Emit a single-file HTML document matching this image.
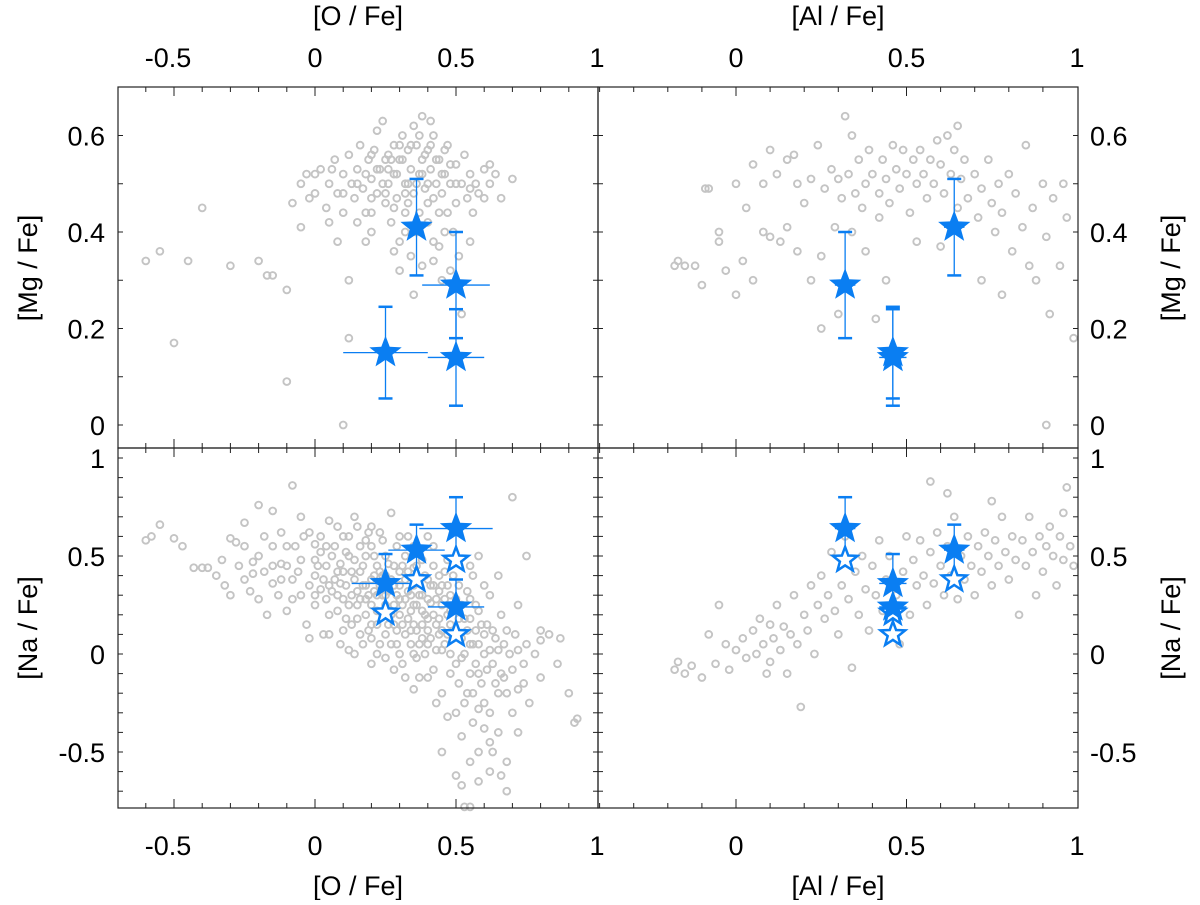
<!DOCTYPE html>
<html><head><meta charset="utf-8"><style>
html,body{margin:0;padding:0;background:#fff}
svg text{font-family:"Liberation Sans",sans-serif;fill:#000}
</style></head><body>
<svg id="chart" width="1200" height="900" viewBox="0 0 1200 900" xmlns="http://www.w3.org/2000/svg">
</svg>
<script>
// ---- data ----
const xTicksO = [-0.5, 0, 0.5, 1];
const xTickLabelsO = ["-0.5", "0", "0.5", "1"];
const xTicksAl = [0, 0.5, 1];
const xTickLabelsAl = ["0", "0.5", "1"];
const yTicksMg = [0, 0.2, 0.4, 0.6];
const yTickLabelsMg = ["0", "0.2", "0.4", "0.6"];
const yTicksNa = [-0.5, 0, 0.5, 1];
const yTickLabelsNa = ["-0.5", "0", "0.5", "1"];

const fieldOMg = [[-0.6,0.34],[-0.55,0.36],[-0.5,0.17],[-0.45,0.34],[-0.4,0.45],[-0.3,0.33],[-0.2,0.34],[-0.17,0.31],[-0.15,0.31],[-0.1,0.28],[-0.1,0.09],[0.1,0.0],[0.12,0.18],[-0.08,0.46],[-0.05,0.5],[-0.03,0.52],[0,0.48],[0.02,0.53],[0.04,0.45],[0.05,0.5],[0.07,0.55],[0.08,0.48],[0.1,0.52],[0.1,0.44],[0.12,0.56],[0.13,0.5],[0.14,0.47],[0.15,0.53],[0.16,0.58],[0.17,0.49],[0.18,0.44],[0.19,0.55],[0.2,0.51],[0.2,0.4],[0.21,0.57],[0.22,0.48],[0.23,0.53],[0.24,0.63],[0.25,0.46],[0.25,0.55],[0.26,0.5],[0.27,0.42],[0.28,0.58],[0.28,0.52],[0.29,0.47],[0.3,0.55],[0.3,0.38],[0.31,0.6],[0.32,0.5],[0.32,0.44],[0.33,0.57],[0.34,0.53],[0.34,0.35],[0.35,0.62],[0.35,0.48],[0.36,0.58],[0.37,0.52],[0.37,0.44],[0.38,0.55],[0.38,0.64],[0.39,0.49],[0.4,0.57],[0.4,0.42],[0.41,0.53],[0.42,0.47],[0.42,0.6],[0.43,0.5],[0.44,0.55],[0.44,0.37],[0.45,0.48],[0.46,0.52],[0.47,0.44],[0.47,0.58],[0.48,0.5],[0.49,0.4],[0.5,0.54],[0.5,0.46],[0.51,0.35],[0.52,0.5],[0.53,0.56],[0.54,0.47],[0.55,0.52],[0.56,0.44],[0.57,0.5],[0.58,0.48],[0.6,0.53],[0.62,0.5],[0.64,0.52],[0.66,0.47],[0.7,0.51],[0.12,0.3],[0.18,0.38],[0.3,0.32],[0.35,0.27],[0.42,0.34],[0.45,0.3],[0.48,0.32],[0.52,0.23],[0.55,0.38],[0.2,0.47],[0.15,0.42],[0.28,0.36],[0.4,0.5],[0.36,0.4],[0.22,0.61],[0.26,0.56],[0.33,0.46],[0.05,0.42],[-0.05,0.41],[0.08,0.38],
[0.15,0.5],[0.18,0.52],[0.2,0.56],[0.22,0.53],[0.24,0.5],[0.26,0.53],[0.27,0.55],[0.29,0.52],[0.31,0.55],[0.33,0.5],[0.34,0.58],[0.36,0.5],[0.38,0.52],[0.39,0.56],[0.41,0.58],[0.43,0.55],[0.45,0.52],[0.46,0.57],[0.48,0.54],[0.5,0.5],[0.25,0.48],[0.28,0.45],[0.32,0.48],[0.4,0.46],[0.44,0.44],[0.3,0.58],[0.37,0.6],[0.41,0.63],[0.2,0.44],[0.1,0.48],[0.06,0.53],[0.0,0.52],[-0.02,0.47],[0.55,0.49],[0.6,0.47],[0.62,0.54],[0.46,0.4],[0.42,0.38],[0.38,0.33],[0.32,0.4]];
const fieldAlMg = [[-0.18,0.33],[-0.17,0.34],[-0.15,0.33],[-0.12,0.33],[-0.1,0.29],[-0.09,0.49],[-0.08,0.49],[-0.05,0.4],[-0.05,0.38],[-0.03,0.32],[0,0.27],[0,0.5],[0.02,0.34],[0.03,0.45],[0.05,0.54],[0.05,0.3],[0.08,0.5],[0.08,0.4],[0.1,0.57],[0.1,0.39],[0.12,0.52],[0.13,0.38],[0.15,0.41],[0.15,0.55],[0.17,0.56],[0.18,0.36],[0.2,0.46],[0.22,0.51],[0.22,0.3],[0.24,0.58],[0.25,0.2],[0.26,0.49],[0.28,0.53],[0.29,0.41],[0.3,0.51],[0.31,0.47],[0.32,0.64],[0.33,0.52],[0.34,0.6],[0.35,0.48],[0.36,0.55],[0.37,0.45],[0.38,0.5],[0.38,0.36],[0.39,0.57],[0.4,0.52],[0.41,0.22],[0.42,0.48],[0.43,0.55],[0.44,0.51],[0.45,0.46],[0.46,0.58],[0.47,0.53],[0.48,0.49],[0.49,0.57],[0.5,0.52],[0.51,0.44],[0.52,0.55],[0.53,0.5],[0.54,0.57],[0.55,0.52],[0.56,0.47],[0.57,0.55],[0.58,0.5],[0.59,0.59],[0.6,0.54],[0.61,0.48],[0.62,0.6],[0.63,0.52],[0.64,0.57],[0.65,0.45],[0.66,0.51],[0.67,0.55],[0.68,0.47],[0.7,0.52],[0.71,0.43],[0.72,0.49],[0.74,0.55],[0.75,0.46],[0.76,0.4],[0.77,0.5],[0.78,0.44],[0.8,0.52],[0.81,0.36],[0.82,0.48],[0.84,0.41],[0.85,0.58],[0.86,0.33],[0.87,0.45],[0.88,0.3],[0.9,0.5],[0.91,0.39],[0.92,0.23],[0.93,0.47],[0.95,0.33],[0.96,0.5],[0.97,0.43],[0.99,0.18],[0.91,0.0],[0.25,0.35],[0.34,0.4],[0.44,0.3],[0.3,0.23],[0.53,0.38],[0.6,0.37],[0.72,0.3],[0.78,0.27],[0.65,0.62],[0.18,0.5],[0.42,0.43]];
const fieldONa = [[-0.6,0.58],[-0.58,0.6],[-0.55,0.66],[-0.5,0.59],[-0.47,0.55],[-0.43,0.44],[-0.4,0.44],[-0.38,0.44],[-0.33,0.48],[-0.3,0.59],[-0.28,0.57],[-0.25,0.67],[-0.22,0.41],[-0.2,0.76],[-0.15,0.73],[-0.12,0.46],[-0.08,0.86],[-0.05,0.7],[-0.35,0.4],[-0.32,0.35],[-0.3,0.3],[-0.27,0.45],[-0.25,0.38],[-0.23,0.32],[-0.2,0.5],[-0.2,0.28],[-0.18,0.42],[-0.17,0.2],[-0.15,0.55],[-0.15,0.36],[-0.13,0.3],[-0.12,0.62],[-0.1,0.45],[-0.1,0.22],[-0.08,0.38],[-0.07,0.55],[-0.05,0.3],[-0.05,0.48],[-0.03,0.15],[-0.02,0.62],[0,0.4],[0,0.25],[0.02,0.52],[0.02,0.33],[0.03,0.1],[0.04,0.45],[0.05,0.68],[0.05,0.2],[0.07,0.38],[0.07,0.55],[0.08,0.3],[0.09,0.46],[0.1,0.12],[0.1,0.6],[0.11,0.35],[0.12,0.25],[0.12,0.5],[0.13,0.42],[0.14,0.7],[0.15,0.18],[0.15,0.32],[0.16,0.55],[0.17,0.05],[0.17,0.45],[0.18,0.28],[0.19,0.62],[0.2,0.38],[0.2,0.15],[0.21,0.5],[0.22,0.22],[0.22,0.0],[0.23,0.42],[0.24,0.3],[0.24,0.58],[0.25,0.1],[0.26,0.46],[0.27,0.2],[0.27,0.72],[0.28,0.35],[0.29,0.05],[0.29,0.55],[0.3,0.28],[0.3,0.42],[0.31,-0.05],[0.31,0.15],[0.32,0.5],[0.33,0.32],[0.33,0.6],[0.34,0.22],[0.35,0.0],[0.35,0.44],[0.36,0.12],[0.37,0.3],[0.37,-0.12],[0.38,0.48],[0.39,0.2],[0.4,0.05],[0.4,0.38],[0.41,0.26],[0.42,-0.08],[0.42,0.55],[0.43,0.15],[0.44,0.32],[0.45,-0.2],[0.45,0.02],[0.46,0.42],[0.47,0.2],[0.48,-0.1],[0.48,0.3],[0.5,-0.3],[0.5,0.1],[0.51,0.35],[0.52,-0.02],[0.52,-0.42],[0.53,0.18],[0.54,-0.2],[0.55,0.28],[0.55,0.05],[0.56,-0.35],[0.57,0.12],[0.58,-0.1],[0.58,0.22],[0.6,-0.25],[0.6,0.0],[0.61,0.15],[0.62,-0.45],[0.63,-0.05],[0.64,0.08],[0.65,-0.2],[0.66,0.2],[0.67,-0.12],[0.68,-0.55],[0.69,0.0],[0.7,-0.3],[0.71,0.1],[0.72,-0.18],[0.74,-0.05],[0.75,0.05],[0.76,-0.25],[0.78,0.0],[0.8,-0.12],[0.83,0.1],[0.86,-0.05],[0.9,-0.2],[0.92,-0.35],[0.93,-0.33],[0.87,0.08],[0.8,0.07],[0.7,0.8],[0.5,-0.62],[0.52,-0.67],[0.55,-0.78],[0.53,-0.78],[0.62,-0.6],[0.68,-0.7],[0.72,-0.4],[0.45,-0.5],[0.58,-0.5],[0.65,-0.4],[0.15,0.25],[0.25,0.4],[0.18,0.35],[0.28,0.15],[0.32,0.38],[0.35,0.25],[0.22,0.3],[0.38,0.08],[0.4,0.18],[0.42,0.35],[0.45,0.25],[0.3,0.2],[0.26,0.32],[0.34,0.05],[0.1,0.28],[0.05,0.35],[0.08,0.42],[0.14,0.48],[0.2,0.65],[0.16,0.1],[0.12,0.02],[0.44,0.1],[0.48,0.15],[0.36,-0.02],[0.28,-0.08],[0.58,0.5],[0.6,0.35],[0.62,0.3],[0.65,0.4],[0.56,0.4],[0.75,0.5],[0.55,0.45],[0.8,0.12],[0.68,0.12],[0.72,0.25],[-0.02,0.08],[0.0,0.56],[0.3,0.6],[0.4,0.6],[0.25,0.25],[0.38,0.22],[0.2,0.08],[0.35,0.55],[0.47,0.48],
[0.0,0.3],[0.01,0.45],[0.03,0.38],[0.04,0.28],[0.06,0.5],[0.06,0.32],[0.08,0.22],[0.09,0.36],[0.1,0.42],[0.11,0.18],[0.11,0.52],[0.13,0.3],[0.13,0.15],[0.14,0.38],[0.16,0.28],[0.16,0.42],[0.17,0.35],[0.18,0.2],[0.18,0.5],[0.19,0.12],[0.19,0.3],[0.2,0.25],[0.21,0.4],[0.21,0.32],[0.22,0.45],[0.22,0.15],[0.23,0.35],[0.23,0.05],[0.24,0.2],[0.24,0.4],[0.25,0.5],[0.25,0.3],[0.26,0.15],[0.26,0.22],[0.27,0.38],[0.27,0.05],[0.28,0.25],[0.28,0.45],[0.29,0.3],[0.29,0.12],[0.3,0.35],[0.3,0.0],[0.31,0.25],[0.31,0.45],[0.32,0.1],[0.32,0.28],[0.33,0.18],[0.33,0.42],[0.34,0.3],[0.34,0.12],[0.35,0.35],[0.35,0.15],[0.36,0.25],[0.36,0.45],[0.37,0.05],[0.37,0.38],[0.38,0.3],[0.38,0.15],[0.39,0.4],[0.39,0.0],[0.4,0.28],[0.4,0.12],[0.41,0.35],[0.41,0.08],[0.42,0.2],[0.42,0.45],[0.43,0.28],[0.43,0.02],[0.44,0.18],[0.44,0.4],[0.45,0.12],[0.45,0.35],[0.46,0.28],[0.46,0.05],[0.47,0.1],[0.47,0.35],[0.48,0.22],[0.48,0.0],[0.49,0.4],[0.49,0.08],[0.5,0.28],[0.5,-0.05],[0.51,0.18],[0.51,-0.15],[0.52,0.25],[0.52,0.08],[0.53,0.0],[0.53,-0.25],[0.54,0.12],[0.54,0.32],[0.55,-0.1],[0.55,0.18],[0.56,0.05],[0.56,-0.2],[0.57,0.25],[0.57,-0.05],[0.58,0.05],[0.58,-0.28],[0.59,0.15],[0.59,-0.15],[0.6,0.1],[0.61,-0.08],[0.62,0.02],[0.62,-0.3],[0.63,0.12],[0.64,-0.15],[0.65,0.02],[0.66,-0.1],[0.67,0.05],[0.68,-0.2],[0.7,-0.08],[0.72,0.02],[0.74,-0.15],[-0.25,0.55],[-0.22,0.47],[-0.18,0.6],[-0.15,0.45],[-0.12,0.38],[-0.1,0.55],[-0.08,0.28],[-0.06,0.42],[-0.04,0.6],[-0.02,0.35],[0.0,0.48],[0.02,0.6],[0.04,0.55],[0.08,0.65],[0.12,0.6],[0.15,0.65],[0.2,0.55],[0.23,0.62],[0.18,0.58],[0.09,0.05],[0.05,0.1],[0.14,0.0],[0.2,-0.05],[0.25,-0.02],[0.32,-0.12],[0.35,-0.18],[0.4,-0.12],[0.43,-0.25],[0.47,-0.32],[0.6,-0.38],[0.63,-0.5],[0.66,-0.62],[0.55,-0.55],[0.58,-0.65]];
const fieldAlNa = [[-0.18,-0.08],[-0.17,-0.04],[-0.15,-0.1],[-0.13,-0.06],[-0.1,-0.12],[-0.08,0.1],[-0.06,-0.05],[-0.05,0.25],[-0.03,0.05],[-0.02,-0.08],[0,0.02],[0.02,0.08],[0.03,-0.02],[0.05,0.12],[0.06,0.0],[0.07,0.18],[0.08,0.05],[0.09,-0.1],[0.1,0.15],[0.1,-0.04],[0.11,0.08],[0.12,0.25],[0.13,0.02],[0.14,0.14],[0.15,-0.1],[0.16,0.1],[0.17,0.3],[0.18,0.05],[0.19,-0.27],[0.2,0.2],[0.21,0.12],[0.22,0.35],[0.23,0.0],[0.24,0.25],[0.25,0.4],[0.26,0.18],[0.27,0.3],[0.28,0.52],[0.29,0.22],[0.3,0.1],[0.31,0.35],[0.32,0.6],[0.33,0.28],[0.34,-0.07],[0.35,0.42],[0.36,0.2],[0.37,0.5],[0.38,0.33],[0.39,0.12],[0.4,0.45],[0.41,0.3],[0.42,0.58],[0.43,0.22],[0.44,0.38],[0.45,0.5],[0.47,0.3],[0.48,0.05],[0.49,0.42],[0.5,0.6],[0.51,0.2],[0.52,0.48],[0.53,0.35],[0.54,0.58],[0.55,0.4],[0.56,0.25],[0.57,0.52],[0.58,0.36],[0.59,0.62],[0.6,0.45],[0.61,0.3],[0.62,0.55],[0.63,0.4],[0.64,0.7],[0.65,0.28],[0.66,0.5],[0.67,0.38],[0.68,0.6],[0.69,0.45],[0.7,0.3],[0.71,0.55],[0.72,0.42],[0.73,0.62],[0.74,0.5],[0.75,0.35],[0.76,0.58],[0.77,0.45],[0.78,0.7],[0.79,0.52],[0.8,0.38],[0.81,0.6],[0.82,0.48],[0.83,0.2],[0.84,0.58],[0.85,0.45],[0.86,0.7],[0.87,0.52],[0.88,0.3],[0.89,0.6],[0.9,0.42],[0.91,0.55],[0.92,0.65],[0.93,0.5],[0.94,0.35],[0.95,0.6],[0.96,0.48],[0.97,0.85],[0.98,0.55],[0.99,0.45],[0.57,0.88],[0.62,0.82],[0.75,0.78],[0.96,0.72]];

// target stars: [x, y, xerr, yerr]
const starsOMg = [[0.36,0.41,0.03,0.10],[0.50,0.29,0.12,0.11],[0.25,0.15,0.15,0.095],[0.50,0.14,0.10,0.10]];
const starsAlMg = [[0.32,0.29,0.03,0.11],[0.46,0.15,0.04,0.095],[0.46,0.14,0.04,0.10],[0.64,0.41,0.03,0.10]];
const starsONa = [[0.25,0.36,0.12,0.15],[0.36,0.53,0.10,0.13],[0.50,0.64,0.13,0.16],[0.50,0.24,0.10,0.14]];
const openONa = [[0.25,0.21],[0.36,0.38],[0.50,0.48],[0.50,0.10]];
const starsAlNa = [[0.32,0.64,0.03,0.16],[0.64,0.53,0.03,0.13],[0.46,0.36,0.04,0.15],[0.46,0.24,0.04,0.14]];
const openAlNa = [[0.32,0.48],[0.64,0.38],[0.46,0.21],[0.46,0.10]];

// ---- drawing ----
const NS = "http://www.w3.org/2000/svg";
const svg = document.getElementById("chart");
function mk(tag, attrs, parent){const e=document.createElementNS(NS,tag);for(const k in attrs)e.setAttribute(k,attrs[k]);(parent||svg).appendChild(e);return e;}
const BLUE="#0a7ef2", GRAY="#c4c4c4";
const X_L=118, X_M=598, X_R=1078, Y_T=87, Y_M=448, Y_B=808;
const sxO = v => 315 + v*282;
const sxAl = v => 736 + v*341;
const syMg = v => 425 - v*482.5;
const syNa = v => 654 - v*196;

function starPts(cx,cy,R){const r=R*0.42;let p=[];for(let i=0;i<10;i++){const a=-Math.PI/2+i*Math.PI/5;const rr=i%2?r:R;p.push((cx+rr*Math.cos(a)).toFixed(1)+","+(cy+rr*Math.sin(a)).toFixed(1));}return p.join(" ");}

function panel(name,x0,x1,y0,y1,sx,sy,field,stars,opens,xmin,xmax,ymin,ymax,yminor){
  const g=mk("g",{});
  
  
  const fg=mk("g",{},g);
  
  
  field.forEach(p=>{const cx=sx(p[0]),cy=sy(p[1]);if(cx<x0||cx>x1||cy<y0||cy>y1)return;
    const c=mk("circle",{cx:cx,cy:cy,r:3.4,fill:"none",stroke:GRAY,"stroke-width":1.9},fg);
    
    
  });
  stars.forEach(s=>{const cx=sx(s[0]),cy=sy(s[1]);
    const eg=mk("g",{stroke:BLUE,"stroke-width":1.3},g);
    
    
    mk("line",{x1:sx(s[0]-s[2]),x2:sx(s[0]+s[2]),y1:cy,y2:cy},eg);
    mk("line",{x1:cx,x2:cx,y1:sy(s[1]-s[3]),y2:sy(s[1]+s[3])},eg);
    mk("line",{x1:cx-7,x2:cx+7,y1:sy(s[1]-s[3]),y2:sy(s[1]-s[3]),"stroke-width":2.5},eg);
    mk("line",{x1:cx-7,x2:cx+7,y1:sy(s[1]+s[3]),y2:sy(s[1]+s[3]),"stroke-width":2.5},eg);
  });
  (opens||[]).forEach(s=>{
    const p=mk("polygon",{points:starPts(sx(s[0]),sy(s[1]),13),fill:"#fff",stroke:BLUE,"stroke-width":2.5},g);
    
    
  });
  stars.forEach(s=>{
    const p=mk("polygon",{points:starPts(sx(s[0]),sy(s[1]),17),fill:BLUE},g);
    
    
  });
  const fr=mk("rect",{x:x0,y:y0,width:x1-x0,height:y1-y0,fill:"none",stroke:"#222","stroke-width":1.2},g);
  
  
  const tg=mk("g",{stroke:"#222","stroke-width":1},g);
  for(let i=Math.ceil(xmin*10);i<=Math.floor(xmax*10);i++){const v=i/10,x=sx(v);if(x<=x0+1||x>=x1-1)continue;const L=(i%5===0)?9:5;
    mk("line",{x1:x,x2:x,y1:y0,y2:y0+L},tg);mk("line",{x1:x,x2:x,y1:y1,y2:y1-L},tg);}
  for(let i=Math.ceil(ymin/yminor);i<=Math.floor(ymax/yminor);i++){const v=i*yminor,y=sy(v);if(y<=y0+1||y>=y1-1)continue;const L=5;
    mk("line",{x1:x0,x2:x0+L,y1:y,y2:y},tg);mk("line",{x1:x1,x2:x1-L,y1:y,y2:y},tg);}
}
panel("panel-o-mg",X_L,X_M,Y_T,Y_M,sxO,syMg,fieldOMg,starsOMg,null,-0.7,1,-0.05,0.7,0.1);
panel("panel-al-mg",X_M,X_R,Y_T,Y_M,sxAl,syMg,fieldAlMg,starsAlMg,null,-0.4,1,-0.05,0.7,0.1);
panel("panel-o-na",X_L,X_M,Y_M,Y_B,sxO,syNa,fieldONa,starsONa,openONa,-0.7,1,-0.8,1.05,0.1);
panel("panel-al-na",X_M,X_R,Y_M,Y_B,sxAl,syNa,fieldAlNa,starsAlNa,openAlNa,-0.4,1,-0.8,1.05,0.1);

function txt(str,x,y,anchor,name,rot){const t=mk("text",{x:x,y:y,"text-anchor":anchor,"font-size":27});
  if(rot)t.setAttribute("transform","rotate(-90 "+x+" "+y+")");t.textContent=str;
  
  return t;}
xTicksO.forEach((v,i)=>{txt(xTickLabelsO[i],sxO(v)-(v<0?6:0),67,"middle","x-tick-label-top-o");txt(xTickLabelsO[i],sxO(v)-(v<0?6:0),855,"middle","x-tick-label-bottom-o");});
xTicksAl.forEach((v,i)=>{txt(xTickLabelsAl[i],sxAl(v),67,"middle","x-tick-label-top-al");txt(xTickLabelsAl[i],sxAl(v),855,"middle","x-tick-label-bottom-al");});
yTicksMg.forEach((v,i)=>{txt(yTickLabelsMg[i],105,syMg(v)+10,"end","y-tick-label-left-mg");txt(yTickLabelsMg[i],1090,syMg(v)+10,"start","y-tick-label-right-mg");});
yTicksNa.forEach((v,i)=>{txt(yTickLabelsNa[i],105,syNa(v)+10,"end","y-tick-label-left-na");txt(yTickLabelsNa[i],1090,syNa(v)+10,"start","y-tick-label-right-na");});
txt("[O / Fe]",358,25,"middle","x-axis-title-top-o");
txt("[Al / Fe]",838,25,"middle","x-axis-title-top-al");
txt("[O / Fe]",358,895,"middle","x-axis-title-bottom-o");
txt("[Al / Fe]",838,895,"middle","x-axis-title-bottom-al");
txt("[Mg / Fe]",37,268,"middle","y-axis-title-left-mg",true);
txt("[Na / Fe]",37,628,"middle","y-axis-title-left-na",true);
txt("[Mg / Fe]",1180,268,"middle","y-axis-title-right-mg",true);
txt("[Na / Fe]",1180,628,"middle","y-axis-title-right-na",true);
</script>
</body></html>
